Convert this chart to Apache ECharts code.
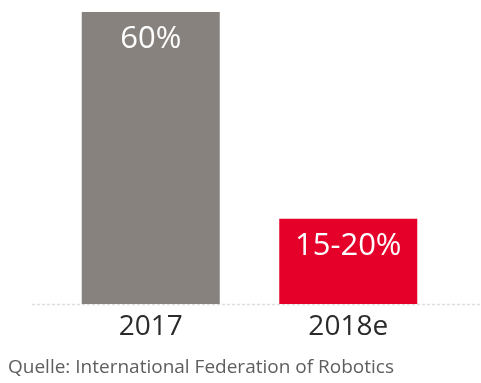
<!DOCTYPE html>
<html>
<head>
<meta charset="utf-8">
<script src="https://cdn.jsdelivr.net/npm/echarts@6/dist/echarts.min.js"></script>
<style>
  html, body { margin: 0; padding: 0; background: #fff; }
  #chart { width: 481px; height: 383px; }
</style>
</head>
<body>
<div id="chart"></div>
<script>
// Share of robot sales growth: 2017 actual vs. 2018 estimate
const categories = ['2017', '2018e'];
const values = [60, 17.5];             // 2018e drawn at the midpoint of 15–20 %
const valueLabels = ['60%', '15-20%'];
const barColors = ['#87827e', '#e5002a'];
const sourceText = 'Quelle: International Federation of Robotics';

const FONT = '"Open Sans", "Noto Sans", sans-serif';

const chart = echarts.init(document.getElementById('chart'), null, { renderer: 'canvas' });

const sourceGraphic = {
  type: 'text',
  left: 8,
  top: 358,
  style: { text: sourceText, fill: '#5e5e5e', font: '19px ' + FONT }
};

chart.setOption({
  animation: false,
  grid: { left: 52, right: 34, top: 12, bottom: 79, containLabel: false },
  xAxis: {
    type: 'category',
    data: categories,
    axisLine: { show: false },
    axisTick: { show: false },
    axisLabel: { color: '#2b2b2b', fontFamily: FONT, fontSize: 28, margin: 9 }
  },
  yAxis: {
    type: 'value',
    min: 0,
    max: 60,
    show: false
  },
  series: [{
    type: 'bar',
    barWidth: 138,
    data: values.map((v, i) => ({
      value: v,
      itemStyle: { color: barColors[i] },
      label: { formatter: valueLabels[i] }
    })),
    label: {
      show: true,
      position: 'insideTop',
      distance: 12,
      color: '#ffffff',
      fontFamily: FONT,
      fontSize: 31
    }
  }],
  graphic: [sourceGraphic]
});

// faint dashed baseline running across the full width at value 0
const baseY = chart.convertToPixel({ yAxisIndex: 0 }, 0);
chart.setOption({
  graphic: [sourceGraphic, {
    type: 'line',
    shape: { x1: 32, y1: baseY + 0.5, x2: 481, y2: baseY + 0.5 },
    style: { stroke: '#dedede', lineWidth: 1.5, lineDash: [3, 2] },
    z: -1
  }]
});
</script>
</body>
</html>
